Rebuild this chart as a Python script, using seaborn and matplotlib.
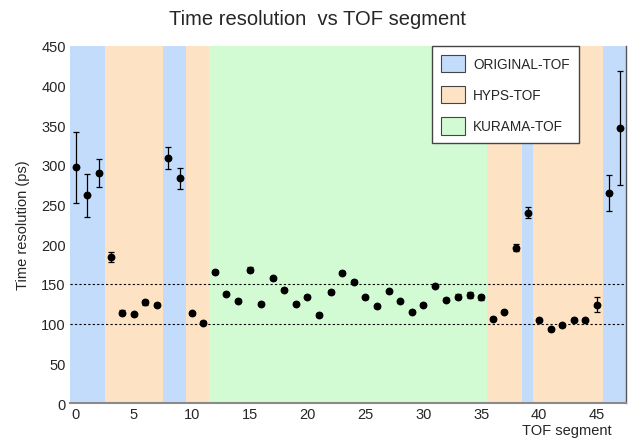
import numpy as np
import pandas as pd
import seaborn as sns
import matplotlib.pyplot as plt
from matplotlib.patches import Patch

segments = list(range(48))
resolution = [297, 262, 290, 184, 114, 112, 127, 124, 309, 283,
              113, 101, 165, 138, 129, 168, 125, 157, 143, 125,
              134, 111, 140, 164, 153, 133, 122, 141, 128, 115,
              124, 148, 130, 134, 136, 133, 106, 115, 196, 240,
              104, 93, 98, 105, 104, 124, 265, 347]
errors = [45, 27, 18, 6, 3, 2, 3, 2, 14, 13,
          2, 2, 3, 2, 2, 3, 2, 2, 2, 2,
          2, 2, 2, 2, 2, 2, 2, 2, 2, 2,
          2, 2, 2, 3, 4, 3, 2, 2, 5, 7,
          2, 2, 2, 2, 2, 9, 23, 72]

# detector regions along the segment axis
region_start = [-0.5, 2.5, 7.5, 9.5, 11.5, 35.5, 38.5, 39.5, 45.5]
region_end = [2.5, 7.5, 9.5, 11.5, 35.5, 38.5, 39.5, 45.5, 47.5]
region_type = ["ORIGINAL-TOF", "HYPS-TOF", "ORIGINAL-TOF", "HYPS-TOF", "KURAMA-TOF",
               "HYPS-TOF", "ORIGINAL-TOF", "HYPS-TOF", "ORIGINAL-TOF"]
region_colors = {"ORIGINAL-TOF": "#c4dcfb", "HYPS-TOF": "#fee2c4", "KURAMA-TOF": "#d2fbd4"}

ref_lines = [100, 150]

df = pd.DataFrame({"segment": segments, "resolution": resolution, "err": errors})

sns.set_theme(style="white")
plt.rcParams['font.family'] = ['Liberation Sans', 'DejaVu Sans']

fig = plt.figure(figsize=(6.35, 4.39), dpi=100)
ax = fig.add_axes([0.1102, 0.0797, 0.8756, 0.8133])

for s, e, t in zip(region_start, region_end, region_type):
    ax.axvspan(s, e, color=region_colors[t], lw=0, zorder=0)

for y in ref_lines:
    ax.axhline(y, color="black", ls=(0, (2, 2)), lw=0.8, zorder=1)

ax.errorbar(df["segment"], df["resolution"], yerr=df["err"], fmt="none",
            ecolor="black", elinewidth=0.9, capsize=2, capthick=0.9, zorder=2)
sns.scatterplot(data=df, x="segment", y="resolution", color="black", s=32,
                edgecolor="black", linewidth=0, ax=ax, zorder=3)

ax.set_xlim(-0.5, 47.5)
ax.set_ylim(0, 450)
ax.set_xticks(range(0, 50, 5))
ax.set_yticks(range(0, 451, 50))
ax.tick_params(labelsize=10.5, length=0, pad=3)
ax.set_xlabel("")
ax.set_ylabel("Time resolution (ps)", fontsize=10.5, labelpad=8)
ax.text(1.0 - 14 / 556, -0.055, "TOF segment", transform=ax.transAxes,
        ha="right", va="top", fontsize=10.5)
fig.suptitle("Time resolution  vs TOF segment", fontsize=14.5, y=0.978)

for side in ["top", "left"]:
    ax.spines[side].set_visible(False)
ax.spines["bottom"].set_color("#8a8a8a")
ax.spines["bottom"].set_linewidth(1.5)
ax.spines["right"].set_color("#555555")
ax.spines["right"].set_linewidth(1.0)

handles = [Patch(facecolor=region_colors[k], edgecolor="#444444", lw=0.8)
           for k in ["ORIGINAL-TOF", "HYPS-TOF", "KURAMA-TOF"]]
leg = ax.legend(handles, ["ORIGINAL-TOF", "HYPS-TOF", "KURAMA-TOF"],
                loc="upper left", bbox_to_anchor=(0.6505, 1.0), borderaxespad=0,
                fontsize=9.8, handlelength=1.8, handleheight=1.55, labelspacing=1.05,
                borderpad=0.65, handletextpad=0.6, fancybox=False, framealpha=1)
leg.get_frame().set_edgecolor("#444444")
leg.get_frame().set_linewidth(1.0)

fig.savefig("out.png", dpi=100)
